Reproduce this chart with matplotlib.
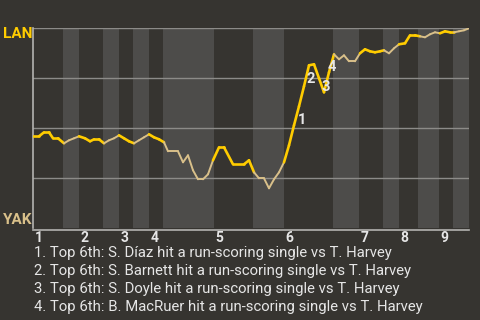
import matplotlib
matplotlib.use("Agg")
import matplotlib.pyplot as plt
from matplotlib.patches import Rectangle

# ---------------- data ----------------
# game progress (arbitrary units along the x axis) and LAN win probability (%)
progress = [0, 6, 11, 16, 20, 25, 31, 36, 41, 46, 52, 57, 61, 66, 71, 76, 81, 86,
            91, 96, 101, 106, 111, 116, 121, 126, 131, 135, 145, 150, 155, 160,
            165, 170, 175, 180, 186, 191, 200, 211, 216, 221, 226, 231, 236, 241,
            246, 251, 256, 261, 266, 271, 276, 281, 286, 291, 296, 301, 306, 311,
            316, 322, 327, 332, 337, 342, 347, 351, 356, 361, 366, 372, 377, 382,
            387, 392, 397, 402, 407, 412, 417, 421, 426, 431, 436]
win_prob = [46.0, 46.0, 48.0, 48.0, 45.0, 45.0, 42.5, 44.0, 45.0, 46.0, 45.0,
            43.5, 44.5, 44.5, 42.5, 44.0, 45.0, 46.5, 45.0, 43.5, 42.5, 44.0, 45.5,
            47.0, 45.5, 44.5, 43.0, 38.5, 38.5, 33.0, 36.5, 29.0, 24.5, 24.5, 27.0,
            34.0, 40.5, 40.5, 32.0, 32.0, 34.0, 28.0, 25.0, 25.0, 20.0, 24.5, 28.0,
            33.0, 41.5, 51.5, 61.0, 71.0, 81.5, 82.0, 75.0, 68.0, 78.0, 87.0, 84.5,
            86.5, 83.5, 83.5, 87.5, 89.5, 88.5, 88.0, 88.5, 89.0, 87.5, 90.0, 92.0,
            92.5, 96.5, 96.5, 96.0, 95.5, 97.0, 98.0, 97.5, 98.5, 98.0, 98.0, 98.5,
            99.0, 100.0]

# half-inning boundaries (start of each half, plus the end of the game)
half_starts = [0, 30, 46, 70, 86, 100, 116, 130, 181, 220, 251, 300, 326,
               350, 366, 385, 406, 420, 436]
inning_labels = ["1", "2", "3", "4", "5", "6", "7", "8", "9"]

away_team = "LAN"
home_team = "YAK"

# highlighted events and where their number labels sit
event_ids = ["1", "2", "3", "4"]
event_text_pos = [(269, 54), (278, 74.5), (293, 70.5), (299, 80.5)]

notes = [
    "1. Top 6th: S. Díaz hit a run-scoring single vs T. Harvey",
    "2. Top 6th: S. Barnett hit a run-scoring single vs T. Harvey",
    "3. Top 6th: S. Doyle hit a run-scoring single vs T. Harvey",
    "4. Top 6th: B. MacRuer hit a run-scoring single vs T. Harvey",
]

# ---------------- style ----------------
BG = "#363430"
BAND = "#4d4c4a"
GRID = "#8c8b88"
AXIS = "#b4b3b0"
YELLOW = "#ffcc00"
TAN = "#d9c08a"
TXT = "#e6e6e6"

plt.rcParams["font.family"] = ["Roboto", "DejaVu Sans"]

fig = plt.figure(figsize=(4.8, 3.2), dpi=100, facecolor=BG)
W, H = 480, 320
ax = fig.add_axes([33 / W, 1 - 228.3 / H, 436 / W, 200 / H])
ax.set_facecolor(BG)
ax.set_xlim(half_starts[0], half_starts[-1])
ax.set_ylim(0, 100)
for s in ax.spines.values():
    s.set_visible(False)
ax.set_xticks([])
ax.set_yticks([])

# bands for the bottom halves
for i in range(1, len(half_starts) - 1, 2):
    ax.add_patch(Rectangle((half_starts[i], 0), half_starts[i + 1] - half_starts[i], 100,
                           facecolor=BAND, edgecolor="none", zorder=0))

# grid lines
for g in [25, 50, 75, 100]:
    ax.axhline(g, color=GRID, lw=1.0, zorder=1)
ax.plot([0, 0], [0, 100], color=AXIS, lw=1.2, zorder=2, clip_on=False)
ax.plot([0, half_starts[-1]], [-1, -1], color=AXIS, lw=1.2, zorder=2, clip_on=False)


def half_index(x):
    for i in range(len(half_starts) - 1):
        if half_starts[i] <= x < half_starts[i + 1]:
            return i
    return len(half_starts) - 2


# line coloured by which half-inning it lies in
for k in range(len(progress) - 1):
    x0, x1 = progress[k], progress[k + 1]
    top = half_index((x0 + x1) / 2) % 2 == 0
    ax.plot([x0, x1], [win_prob[k], win_prob[k + 1]],
            color=YELLOW if top else TAN, lw=1.9 if top else 1.4,
            solid_capstyle="round", zorder=3)

for lab, (tx, ty) in zip(event_ids, event_text_pos):
    ax.text(tx, ty, lab, color=TXT, fontsize=10.5, fontweight="bold",
            ha="center", va="center", zorder=4)

# team labels
fig.text(3 / W, 1 - 34 / H, away_team, color=YELLOW, fontsize=11, fontweight="bold",
         ha="left", va="center")
fig.text(3 / W, 1 - 219.5 / H, home_team, color=TAN, fontsize=11, fontweight="bold",
         ha="left", va="center")

# inning labels at the start of each top half
for j, lab in enumerate(inning_labels):
    fig.text((33 + half_starts[2 * j] + 1.5) / W, 1 - 237.5 / H, lab, color=TXT,
             fontsize=10, fontweight="bold", ha="left", va="center")

for i, n in enumerate(notes):
    fig.text(34 / W, 1 - (253.5 + 17.8 * i) / H, n, color=TXT, fontsize=10.7,
             ha="left", va="center")

fig.savefig("out.png", dpi=100, facecolor=BG)
